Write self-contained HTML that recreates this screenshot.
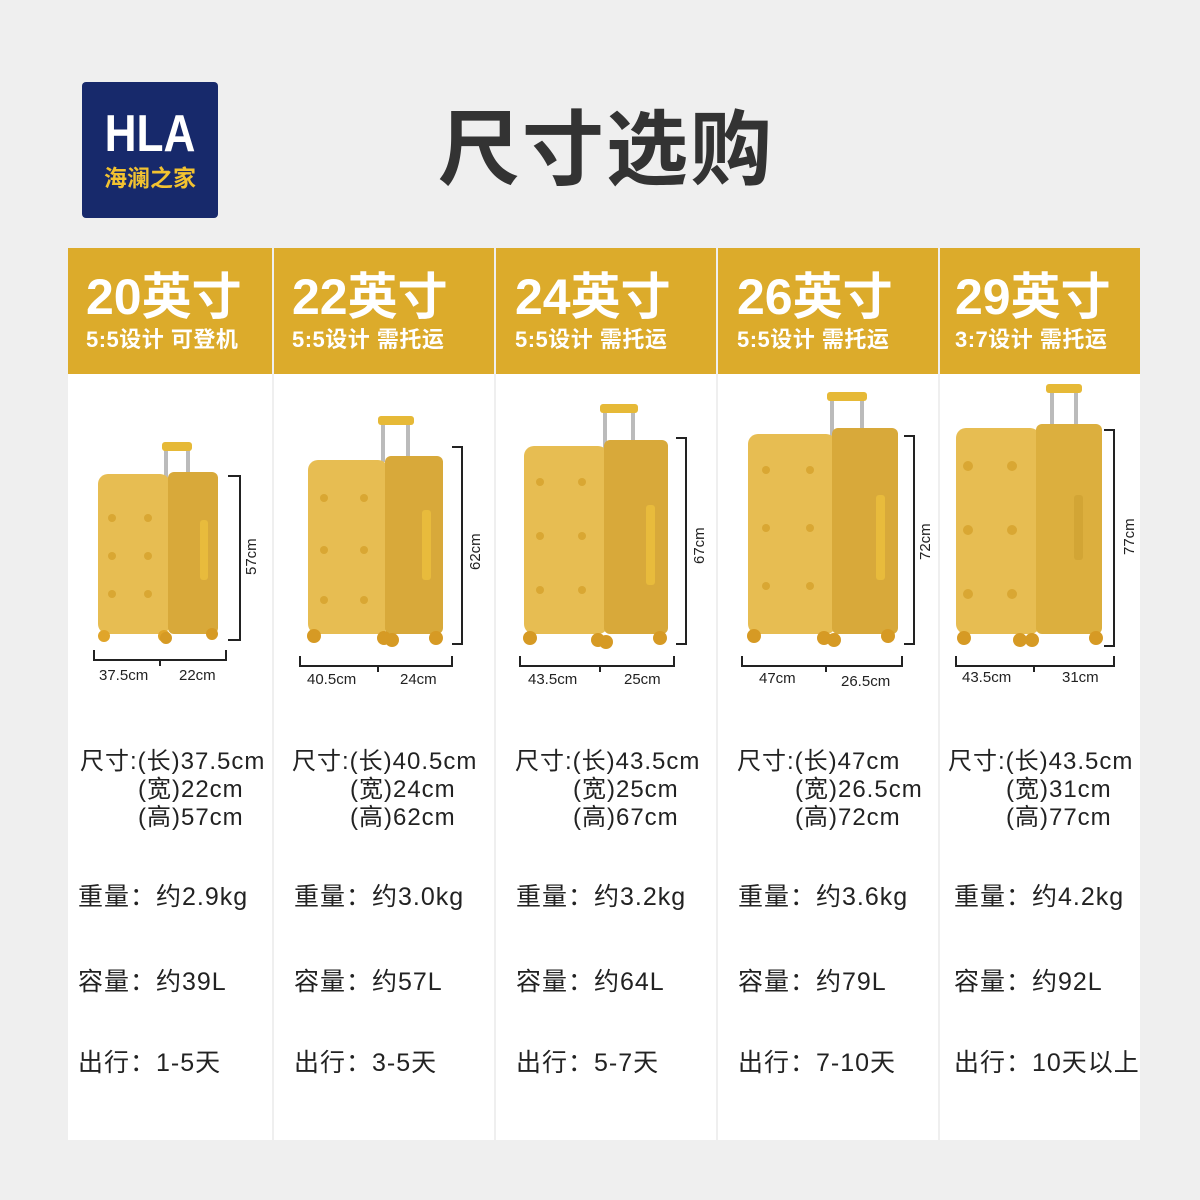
<!DOCTYPE html>
<html><head><meta charset="utf-8">
<style>
body{margin:0;width:1200px;height:1200px;background:#efefef;position:relative;overflow:hidden;font-family:"Liberation Sans","Noto Sans CJK SC",sans-serif;color:#222}
.a{position:absolute;white-space:nowrap}
.col{position:absolute;top:248px;height:892px;background:#fff}
.hd{position:absolute;top:248px;height:126px;background:#dcab2b}
.t1{font-size:50px;font-weight:bold;color:#fff;line-height:50px}
.t2{font-size:22px;font-weight:bold;color:#fff;line-height:24px;letter-spacing:0.5px}
.s{font-size:24px;line-height:28px;letter-spacing:1px}
.r{font-size:25px;line-height:28px;letter-spacing:1px}
</style></head><body>
<div class="a" style="left:82px;top:82px;width:136px;height:136px;background:#17296b;border-radius:4px"></div>
<div class="a" style="left:82px;top:106px;width:136px;text-align:center;color:#fff;font-weight:bold;font-size:52px;line-height:56px;transform:scaleX(0.85)">HLA</div>
<div class="a" style="left:82px;top:164px;width:136px;text-align:center;color:#f2c230;font-weight:bold;font-size:23px;line-height:28px">海澜之家</div>
<div class="a" style="left:438px;top:106px;font-size:82px;font-weight:bold;color:#333;line-height:90px;letter-spacing:2px">尺寸选购</div>

<div class="col" style="left:68px;width:204px"></div>
<div class="col" style="left:274px;width:220px"></div>
<div class="col" style="left:496px;width:220px"></div>
<div class="col" style="left:718px;width:220px"></div>
<div class="col" style="left:940px;width:200px"></div>
<div class="hd" style="left:68px;width:204px"></div>
<div class="hd" style="left:274px;width:220px"></div>
<div class="hd" style="left:496px;width:220px"></div>
<div class="hd" style="left:718px;width:220px"></div>
<div class="hd" style="left:940px;width:200px"></div>

<div class="a t1" style="left:86px;top:272px">20英寸</div><div class="a t2" style="left:86px;top:328px">5:5设计 可登机</div>
<div class="a t1" style="left:292px;top:272px">22英寸</div><div class="a t2" style="left:292px;top:328px">5:5设计 需托运</div>
<div class="a t1" style="left:515px;top:272px">24英寸</div><div class="a t2" style="left:515px;top:328px">5:5设计 需托运</div>
<div class="a t1" style="left:737px;top:272px">26英寸</div><div class="a t2" style="left:737px;top:328px">5:5设计 需托运</div>
<div class="a t1" style="left:955px;top:272px">29英寸</div><div class="a t2" style="left:955px;top:328px">3:7设计 需托运</div>

<svg class="a" style="left:0;top:0" width="1200" height="1200">
<g fill="none" stroke="#222" stroke-width="2">
<path d="M228 476H240V640H228"/><path d="M94 650V660H226V650M160 660V666"/>
<path d="M452 447H462V644H452"/><path d="M300 656V666H452V656M378 666V672"/>
<path d="M676 438H686V644H676"/><path d="M520 656V666H674V656M600 666V672"/>
<path d="M904 436H914V644H904"/><path d="M742 656V666H902V656M826 666V672"/>
<path d="M1104 430H1114V646H1104"/><path d="M956 656V666H1114V656M1034 666V672"/>
</g>
<g font-size="15" fill="#222" font-family="Liberation Sans">
<text x="99" y="680">37.5cm</text><text x="179" y="680">22cm</text>
<text x="307" y="684">40.5cm</text><text x="400" y="684">24cm</text>
<text x="528" y="684">43.5cm</text><text x="624" y="684">25cm</text>
<text x="759" y="683">47cm</text><text x="841" y="686">26.5cm</text>
<text x="962" y="682">43.5cm</text><text x="1062" y="682">31cm</text>
<text transform="translate(256,575) rotate(-90)">57cm</text>
<text transform="translate(480,570) rotate(-90)">62cm</text>
<text transform="translate(704,564) rotate(-90)">67cm</text>
<text transform="translate(930,560) rotate(-90)">72cm</text>
<text transform="translate(1134,555) rotate(-90)">77cm</text>
</g>
<g>
<rect x="164" y="448" width="4" height="30" fill="#bbb"/><rect x="186" y="448" width="4" height="30" fill="#bbb"/><rect x="162" y="442" width="30" height="9" rx="3" fill="#e6b937"/>
<rect x="98" y="474" width="72" height="160" rx="10" fill="#e7bd52"/><rect x="168" y="472" width="50" height="162" rx="6" fill="#d8a93a"/>
<rect x="200" y="520" width="8" height="60" rx="3" fill="#e8bb3c"/>
<circle cx="104" cy="636" r="6" fill="#e0a52a"/><circle cx="164" cy="636" r="6" fill="#e0a52a"/><circle cx="166" cy="638" r="6" fill="#d69a24"/><circle cx="212" cy="634" r="6" fill="#d69a24"/>
</g>
<g>
<rect x="381" y="422" width="4" height="40" fill="#bbb"/><rect x="406" y="422" width="4" height="40" fill="#bbb"/><rect x="378" y="416" width="36" height="9" rx="3" fill="#e6b937"/>
<rect x="308" y="460" width="80" height="174" rx="10" fill="#e7bd52"/><rect x="385" y="456" width="58" height="178" rx="6" fill="#d8a93a"/>
<rect x="422" y="510" width="9" height="70" rx="3" fill="#e8bb3c"/>
<circle cx="314" cy="636" r="7" fill="#d69a24"/><circle cx="384" cy="638" r="7" fill="#d69a24"/><circle cx="392" cy="640" r="7" fill="#d69a24"/><circle cx="436" cy="638" r="7" fill="#d69a24"/>
</g>
<g>
<rect x="603" y="410" width="4" height="40" fill="#bbb"/><rect x="631" y="410" width="4" height="40" fill="#bbb"/><rect x="600" y="404" width="38" height="9" rx="3" fill="#e6b937"/>
<rect x="524" y="446" width="84" height="188" rx="10" fill="#e7bd52"/><rect x="604" y="440" width="64" height="194" rx="6" fill="#d8a93a"/>
<rect x="646" y="505" width="9" height="80" rx="3" fill="#e8bb3c"/>
<circle cx="530" cy="638" r="7" fill="#d69a24"/><circle cx="598" cy="640" r="7" fill="#d69a24"/><circle cx="606" cy="642" r="7" fill="#d69a24"/><circle cx="660" cy="638" r="7" fill="#d69a24"/>
</g>
<g>
<rect x="830" y="398" width="4" height="40" fill="#bbb"/><rect x="860" y="398" width="4" height="40" fill="#bbb"/><rect x="827" y="392" width="40" height="9" rx="3" fill="#e6b937"/>
<rect x="748" y="434" width="88" height="200" rx="10" fill="#e7bd52"/><rect x="832" y="428" width="66" height="206" rx="6" fill="#d8a93a"/>
<rect x="876" y="495" width="9" height="85" rx="3" fill="#e8bb3c"/>
<circle cx="754" cy="636" r="7" fill="#d69a24"/><circle cx="824" cy="638" r="7" fill="#d69a24"/><circle cx="834" cy="640" r="7" fill="#d69a24"/><circle cx="888" cy="636" r="7" fill="#d69a24"/>
</g>
<g>
<rect x="1050" y="392" width="4" height="40" fill="#bbb"/><rect x="1074" y="392" width="4" height="40" fill="#bbb"/><rect x="1046" y="384" width="36" height="9" rx="3" fill="#e6b937"/>
<rect x="956" y="428" width="84" height="206" rx="10" fill="#e7bd52"/><rect x="1036" y="424" width="66" height="210" rx="6" fill="#dcaf3e"/>
<rect x="1074" y="495" width="9" height="65" rx="3" fill="#d2a535"/>
<circle cx="964" cy="638" r="7" fill="#d69a24"/><circle cx="1020" cy="640" r="7" fill="#d69a24"/><circle cx="1032" cy="640" r="7" fill="#d69a24"/><circle cx="1096" cy="638" r="7" fill="#d69a24"/>
</g>
<g fill="#d9a733">
<circle cx="112" cy="518" r="4"/><circle cx="148" cy="518" r="4"/><circle cx="112" cy="556" r="4"/><circle cx="148" cy="556" r="4"/><circle cx="112" cy="594" r="4"/><circle cx="148" cy="594" r="4"/>
<circle cx="324" cy="498" r="4"/><circle cx="364" cy="498" r="4"/><circle cx="324" cy="550" r="4"/><circle cx="364" cy="550" r="4"/><circle cx="324" cy="600" r="4"/><circle cx="364" cy="600" r="4"/>
<circle cx="540" cy="482" r="4"/><circle cx="582" cy="482" r="4"/><circle cx="540" cy="536" r="4"/><circle cx="582" cy="536" r="4"/><circle cx="540" cy="590" r="4"/><circle cx="582" cy="590" r="4"/>
<circle cx="766" cy="470" r="4"/><circle cx="810" cy="470" r="4"/><circle cx="766" cy="528" r="4"/><circle cx="810" cy="528" r="4"/><circle cx="766" cy="586" r="4"/><circle cx="810" cy="586" r="4"/>
<circle cx="968" cy="466" r="5"/><circle cx="1012" cy="466" r="5"/><circle cx="968" cy="530" r="5"/><circle cx="1012" cy="530" r="5"/><circle cx="968" cy="594" r="5"/><circle cx="1012" cy="594" r="5"/>
</g>
</svg>

<div class="a s" style="left:80px;top:748px">尺寸:(长)37.5cm</div><div class="a s" style="left:138px;top:776px">(宽)22cm</div><div class="a s" style="left:138px;top:804px">(高)57cm</div>
<div class="a s" style="left:292px;top:748px">尺寸:(长)40.5cm</div><div class="a s" style="left:350px;top:776px">(宽)24cm</div><div class="a s" style="left:350px;top:804px">(高)62cm</div>
<div class="a s" style="left:515px;top:748px">尺寸:(长)43.5cm</div><div class="a s" style="left:573px;top:776px">(宽)25cm</div><div class="a s" style="left:573px;top:804px">(高)67cm</div>
<div class="a s" style="left:737px;top:748px">尺寸:(长)47cm</div><div class="a s" style="left:795px;top:776px">(宽)26.5cm</div><div class="a s" style="left:795px;top:804px">(高)72cm</div>
<div class="a s" style="left:948px;top:748px">尺寸:(长)43.5cm</div><div class="a s" style="left:1006px;top:776px">(宽)31cm</div><div class="a s" style="left:1006px;top:804px">(高)77cm</div>

<div class="a r" style="left:78px;top:883px">重量：约2.9kg</div><div class="a r" style="left:78px;top:968px">容量：约39L</div><div class="a r" style="left:78px;top:1049px">出行：1-5天</div>
<div class="a r" style="left:294px;top:883px">重量：约3.0kg</div><div class="a r" style="left:294px;top:968px">容量：约57L</div><div class="a r" style="left:294px;top:1049px">出行：3-5天</div>
<div class="a r" style="left:516px;top:883px">重量：约3.2kg</div><div class="a r" style="left:516px;top:968px">容量：约64L</div><div class="a r" style="left:516px;top:1049px">出行：5-7天</div>
<div class="a r" style="left:738px;top:883px">重量：约3.6kg</div><div class="a r" style="left:738px;top:968px">容量：约79L</div><div class="a r" style="left:738px;top:1049px">出行：7-10天</div>
<div class="a r" style="left:954px;top:883px">重量：约4.2kg</div><div class="a r" style="left:954px;top:968px">容量：约92L</div><div class="a r" style="left:954px;top:1049px">出行：10天以上</div>
</body></html>
